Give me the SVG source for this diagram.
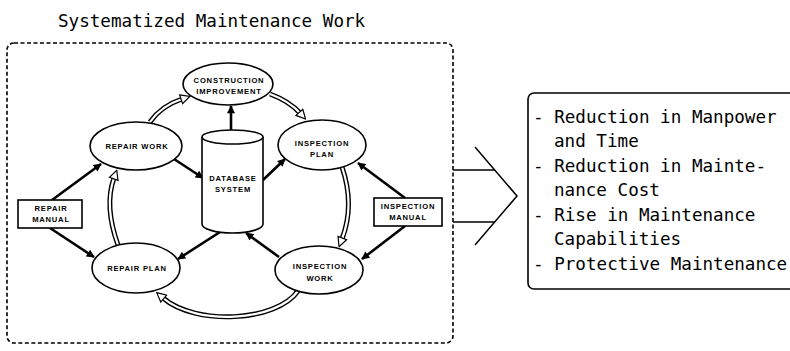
<svg xmlns="http://www.w3.org/2000/svg" width="790" height="351" viewBox="0 0 790 351">
  <defs>
    <!-- solid filled head for the black data-flow arrows -->
    <marker id="solid" viewBox="0 0 10 10" refX="9" refY="5" markerUnits="userSpaceOnUse" markerWidth="9" markerHeight="8" orient="auto">
      <path d="M0,0 L10,5 L0,10 Z" fill="#000"/>
    </marker>
    <!-- open head for the double-line work-cycle arrows -->
    <marker id="hollow" viewBox="0 0 12 12" refX="2" refY="6" markerUnits="userSpaceOnUse" markerWidth="11" markerHeight="11" orient="auto">
      <path d="M1,1 L11,6 L1,11 Z" fill="#fff" stroke="#000" stroke-width="1.3" stroke-linejoin="miter"/>
    </marker>
    <style>
      .title { font-family: "DejaVu Sans Mono", "Liberation Mono", monospace; font-size: 17.6px; fill: #000; }
      .item { font-family: "DejaVu Sans Mono", "Liberation Mono", monospace; font-size: 17.6px; fill: #000; }
      .lbl { font-family: "Liberation Sans", Arial, sans-serif; font-size: 7.6px; font-weight: bold; letter-spacing: 0.8px; fill: #000; text-anchor: middle; }
      .node { fill: #fff; stroke: #000; stroke-width: 1.6; }
      .frame { fill: none; stroke: #000; stroke-width: 1.6; stroke-dasharray: 4 2.5; }
      .solidline { fill: none; stroke: #000; stroke-width: 2.6; marker-end: url(#solid); }
      .dblout { fill: none; stroke: #000; stroke-width: 5; }
      .dblin { fill: none; stroke: #fff; stroke-width: 2.2; marker-end: url(#hollow); }
      .thin { fill: none; stroke: #000; stroke-width: 1.5; }
    </style>
  </defs>

  <text class="title" x="58" y="27">Systematized Maintenance Work</text>

  <!-- dashed system boundary -->
  <rect class="frame" x="7" y="43" width="446" height="300" rx="7" ry="7"/>

  <!-- connectors -->
  <g id="connectors">
    <!-- double-line work cycle -->
    <path class="dblout" d="M150,122 Q161,106 182,99"/>
    <path class="dblin" d="M150,122 Q161,106 182,99"/>
    <path class="dblout" d="M270,94 Q289,101 300,113"/>
    <path class="dblin" d="M270,94 Q289,101 300,113"/>
    <path class="dblout" d="M342,167 Q355,205 342,239"/>
    <path class="dblin" d="M342,167 Q355,205 342,239"/>
    <path class="dblout" d="M298,291 C276,322 196,326 163,298"/>
    <path class="dblin" d="M298,291 C276,322 196,326 163,298"/>
    <path class="dblout" d="M118,245 Q104,206 114,178"/>
    <path class="dblin" d="M118,245 Q104,206 114,178"/>

    <!-- data flows -->
    <path class="solidline" d="M231,130 L231,106"/>
    <path class="solidline" d="M52,200 L101,164"/>
    <path class="solidline" d="M50,228 L94,257"/>
    <path class="solidline" d="M174,159 L203,178"/>
    <path class="solidline" d="M263,180 L285,159"/>
    <path class="solidline" d="M405,198 L358,163"/>
    <path class="solidline" d="M405,226 L362,259"/>
    <path class="solidline" d="M279,257 L246,233"/>
    <path class="solidline" d="M220,232 L178,259"/>

    <!-- outcome chevron -->
    <line class="thin" x1="453" y1="170" x2="495" y2="170" stroke-width="1"/>
    <line class="thin" x1="453" y1="222" x2="495" y2="222" stroke-width="1"/>
    <polyline class="thin" points="475,147 517,196 475,245"/>
  </g>

  <g id="construction-improvement">
    <ellipse class="node" cx="228" cy="84" rx="45" ry="21"/>
    <text class="lbl" x="229" y="83">CONSTRUCTION</text>
    <text class="lbl" x="229" y="94">IMPROVEMENT</text>
  </g>

  <g id="repair-work">
    <ellipse class="node" cx="136" cy="146" rx="46" ry="24"/>
    <text class="lbl" x="137" y="149">REPAIR WORK</text>
  </g>

  <g id="inspection-plan">
    <ellipse class="node" cx="322" cy="145" rx="44" ry="25"/>
    <text class="lbl" x="322" y="146">INSPECTION</text>
    <text class="lbl" x="322" y="157">PLAN</text>
  </g>

  <g id="database-system">
    <path class="node" d="M202,137 V224 A30.5,9 0 0 0 263,224 V137"/>
    <ellipse class="node" cx="232.5" cy="137" rx="30.5" ry="7"/>
    <text class="lbl" x="233" y="181">DATABASE</text>
    <text class="lbl" x="233" y="192">SYSTEM</text>
  </g>

  <g id="repair-plan">
    <ellipse class="node" cx="136" cy="268" rx="44" ry="25"/>
    <text class="lbl" x="137" y="271">REPAIR  PLAN</text>
  </g>

  <g id="inspection-work">
    <ellipse class="node" cx="319" cy="270" rx="44" ry="24"/>
    <text class="lbl" x="320" y="269">INSPECTION</text>
    <text class="lbl" x="320" y="281">WORK</text>
  </g>

  <g id="repair-manual">
    <rect class="node" x="18" y="200" width="64" height="28"/>
    <text class="lbl" x="51" y="211">REPAIR</text>
    <text class="lbl" x="51" y="222">MANUAL</text>
  </g>

  <g id="inspection-manual">
    <rect class="node" x="374" y="198" width="68" height="28" stroke-width="1.8"/>
    <text class="lbl" x="408" y="209">INSPECTION</text>
    <text class="lbl" x="408" y="220">MANUAL</text>
  </g>

  <g id="outcomes">
    <rect x="528" y="93" width="300" height="196" rx="6" ry="6" fill="#fff" stroke="#000" stroke-width="1.6"/>
    <text class="item" x="533" y="123">- Reduction in Manpower</text>
    <text class="item" x="554" y="147">and Time</text>
    <text class="item" x="533" y="172">- Reduction in Mainte-</text>
    <text class="item" x="554" y="196">nance Cost</text>
    <text class="item" x="533" y="221">- Rise in Maintenance</text>
    <text class="item" x="554" y="245">Capabilities</text>
    <text class="item" x="533" y="270">- Protective Maintenance</text>
  </g>
</svg>
